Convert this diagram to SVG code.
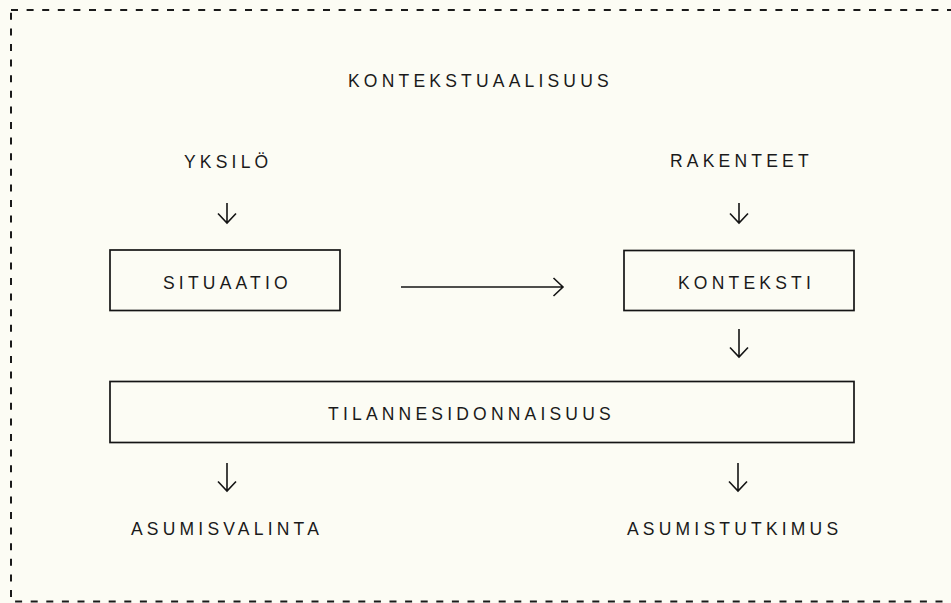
<svg xmlns="http://www.w3.org/2000/svg" width="951" height="603" viewBox="0 0 951 603">
  <defs>
    <style>
      .lbl { font-family: "Liberation Sans", Arial, sans-serif; font-size: 17.5px; letter-spacing: 4.2px; fill: #1a1a1a; }
      .box { fill: none; stroke: #141414; stroke-width: 1.7; }
      .arr { fill: none; stroke: #141414; stroke-width: 1.6; stroke-linecap: butt; stroke-linejoin: miter; }
      .frame { fill: none; stroke: #1a1a1a; stroke-width: 2; stroke-dasharray: 7 8.6; }
    </style>
  </defs>

  <rect width="951" height="603" fill="#fcfcf4"/>

  <!-- dashed outer frame -->
  <rect class="frame" x="11" y="10" width="950" height="591.5"/>

  <text class="lbl" x="348" y="87">KONTEKSTUAALISUUS</text>

  <g id="yksilo"><text class="lbl" x="184" y="168">YKSILÖ</text></g>
  <g id="rakenteet"><text class="lbl" x="670" y="167">RAKENTEET</text></g>

  <g id="situaatio">
    <rect class="box" x="110" y="250" width="230" height="60.5"/>
    <text class="lbl" x="163" y="289">SITUAATIO</text>
  </g>

  <g id="konteksti">
    <rect class="box" x="624" y="250.5" width="230" height="60"/>
    <text class="lbl" x="678" y="289">KONTEKSTI</text>
  </g>

  <g id="tilannesidonnaisuus">
    <rect class="box" x="110" y="381.5" width="744" height="61"/>
    <text class="lbl" x="328" y="420">TILANNESIDONNAISUUS</text>
  </g>

  <g id="asumisvalinta"><text class="lbl" x="131" y="535">ASUMISVALINTA</text></g>
  <g id="asumistutkimus"><text class="lbl" x="627" y="535">ASUMISTUTKIMUS</text></g>

  <g id="connectors">
    <!-- YKSILÖ -> SITUAATIO -->
    <path class="arr" d="M227 203V223M218 213.5L227 223L236 213.5"/>
    <!-- RAKENTEET -> KONTEKSTI -->
    <path class="arr" d="M739 203V223M730 213.5L739 223L748 213.5"/>
    <!-- SITUAATIO -> KONTEKSTI -->
    <path class="arr" d="M401 287H563M553.5 278L563 287L553.5 296"/>
    <!-- KONTEKSTI -> TILANNESIDONNAISUUS -->
    <path class="arr" d="M739 329V357M730 347.5L739 357L748 347.5"/>
    <!-- TILANNESIDONNAISUUS -> outcomes -->
    <path class="arr" d="M227 463V491M218 481.5L227 491L236 481.5"/>
    <path class="arr" d="M738 463V491M729 481.5L738 491L747 481.5"/>
  </g>
</svg>
